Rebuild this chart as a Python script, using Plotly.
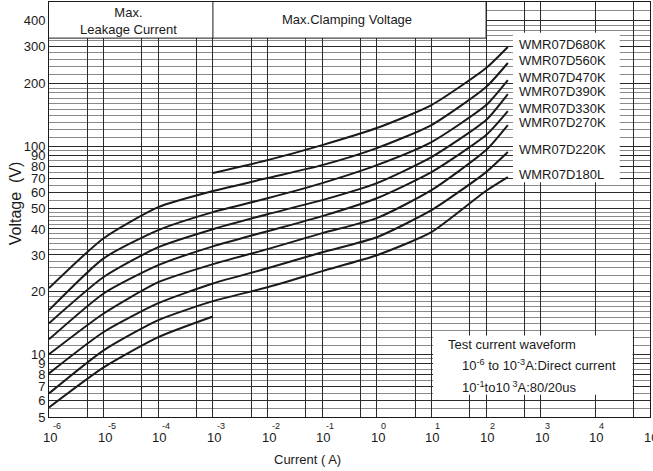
import numpy as np
import plotly.graph_objects as go

# Current points (A) for each curve
currents_full = [1e-6, 1e-5, 1e-4, 1e-3, 1e-2, 1e-1, 1, 10, 100, 250]
currents_clamp = [1e-3, 1e-2, 1e-1, 1, 10, 100, 250]
currents_leak = [1e-6, 1e-5, 1e-4, 1e-3]

# Voltage (V) readings per varistor
v_680K = [74.2, 85.6, 101.1, 122.1, 157.4, 237.1, 299.2]
v_560K = [20.8, 36.1, 50.9, 60.8, 70.2, 81.0, 97.8, 126.2, 192.2, 250.6]
v_470K = [16.3, 28.9, 39.5, 48.2, 56.2, 66.4, 81.0, 104.5, 157.4, 207.6]
v_390K = [14.1, 23.5, 32.7, 39.9, 47.1, 55.0, 66.4, 88.5, 133.4, 177.8]
v_330K = [11.8, 19.6, 26.8, 33.0, 39.0, 46.1, 56.2, 75.0, 113.0, 147.3]
v_270K = [10.0, 15.7, 22.2, 27.1, 32.0, 38.2, 45.1, 61.4, 95.7, 126.2]
v_220K = [8.1, 12.8, 17.6, 21.9, 25.9, 30.9, 36.5, 49.2, 75.0, 93.6]
v_180L = [6.49, 10.45, 14.6, 18.0, 21.0, 25.1, 29.9, 38.6, 61.0, 71.0]
v_leak_low = [5.56, 8.66, 12.1, 15.2]

model_names = ["WMR07D680K", "WMR07D560K", "WMR07D470K", "WMR07D390K",
               "WMR07D330K", "WMR07D270K", "WMR07D220K", "WMR07D180L"]

y_tick_vals = [5, 6, 7, 8, 9, 10, 20, 30, 40, 50, 60, 70, 80, 90, 100, 200, 300, 400]
y_minor_vals = ([5.5, 6.5, 7.5, 8.5, 9.5] + list(range(11, 20)) +
                [22, 24, 26, 28, 32, 34, 36, 38, 42, 44, 46, 48, 55, 65, 75, 85, 95] +
                list(range(110, 200, 10)) + [220, 240, 260, 280, 320, 340, 360, 380, 450])
x_decades = list(range(-6, 6))
x_grid_vals = [10.0 ** e for e in x_decades] + [5 * 10.0 ** e for e in range(-6, 5) if e != 3]

FONT = "Arial, Liberation Sans, sans-serif"
INK = "#1a1a1a"

fig = go.Figure()

series = [
    (currents_clamp, v_680K),
    (currents_full, v_560K),
    (currents_full, v_470K),
    (currents_full, v_390K),
    (currents_full, v_330K),
    (currents_full, v_270K),
    (currents_full, v_220K),
    (currents_full, v_180L),
]
for (xs, ys), name in zip(series, model_names):
    fig.add_trace(go.Scatter(x=xs, y=ys, mode="lines", name=name,
                             line=dict(color=INK, width=2, shape="spline", smoothing=0.6),
                             showlegend=False, hoverinfo="skip"))
fig.add_trace(go.Scatter(x=currents_leak, y=v_leak_low, mode="lines",
                         line=dict(color=INK, width=2, shape="spline", smoothing=0.6),
                         showlegend=False, hoverinfo="skip"))

# White panels over the grid
panels = [
    dict(x0=1e-6, x1=100, y0=330, y1=492),       # header panel
    dict(x0=310, x1=28000, y0=67, y1=350),        # model labels
    dict(x0=10.7, x1=48000, y0=6.4, y1=12.3),     # waveform note
]
for p in panels:
    fig.add_shape(type="rect", xref="x", yref="y", layer="above",
                  fillcolor="white", line=dict(width=0), **p)
# header panel frame
fig.add_shape(type="line", xref="x", yref="y", layer="above", x0=1e-6, x1=100, y0=330, y1=330,
              line=dict(color=INK, width=1))
for xv in (1e-3, 100):
    fig.add_shape(type="line", xref="x", yref="y", layer="above", x0=xv, x1=xv, y0=330, y1=492,
                  line=dict(color=INK, width=1))

ann = []
ann.append(dict(x=np.log10(1e-6 * 10 ** 1.45), y=np.log10(400), xref="x", yref="y",
                text="Max.<br>Leakage Current", showarrow=False,
                font=dict(size=13, color=INK, family=FONT)))
ann.append(dict(x=np.log10(10 ** -0.55), y=np.log10(405), xref="x", yref="y",
                text="Max.Clamping Voltage", showarrow=False,
                font=dict(size=13, color=INK, family=FONT)))

# model labels next to the curve ends
for (xs, ys), name in zip(series, model_names):
    ann.append(dict(x=np.log10(370), y=np.log10(ys[-1] * 1.03), xref="x", yref="y",
                    text=name, showarrow=False, xanchor="left",
                    font=dict(size=13, color=INK, family=FONT)))

# waveform note
ann.append(dict(x=np.log10(18.5), y=np.log10(11.1), xref="x", yref="y", xanchor="left",
                text="Test current waveform", showarrow=False,
                font=dict(size=13, color=INK, family=FONT)))
ann.append(dict(x=np.log10(34), y=np.log10(8.85), xref="x", yref="y", xanchor="left",
                text="10<sup>-6</sup> to 10<sup>-3</sup>A:Direct current", showarrow=False,
                font=dict(size=13, color=INK, family=FONT)))
ann.append(dict(x=np.log10(34), y=np.log10(7.0), xref="x", yref="y", xanchor="left",
                text="10<sup>-1</sup>to10<sup> 3</sup>A:80/20us", showarrow=False,
                font=dict(size=13, color=INK, family=FONT)))

# x tick labels: 10 with exponent above
for e in x_decades:
    ann.append(dict(x=e, y=0, xref="x", yref="paper", yanchor="middle", yshift=-20, xshift=1,
                    text="10", showarrow=False, font=dict(size=13, color=INK, family=FONT)))
    ann.append(dict(x=e, y=0, xref="x", yref="paper", yanchor="middle", xanchor="left",
                    yshift=-9, xshift=2, text=str(e), showarrow=False,
                    font=dict(size=9, color=INK, family=FONT)))

ann.append(dict(x=0.43, y=0, xref="paper", yref="paper", yanchor="middle", yshift=-42,
                text="Current ( A)", showarrow=False, font=dict(size=13, color=INK, family=FONT)))
ann.append(dict(x=0, y=0.515, xref="paper", yref="paper", xanchor="center", yanchor="middle",
                xshift=-34, textangle=-90,
                text="Voltage  (V)", showarrow=False, font=dict(size=16, color=INK, family=FONT)))

fig.update_layout(
    width=653, height=471,
    margin=dict(l=49, r=3, t=2, b=54),
    paper_bgcolor="white", plot_bgcolor="white",
    annotations=ann,
    xaxis=dict(type="log", range=[-6, 5], tickvals=x_grid_vals, showticklabels=False,
               showgrid=True, gridcolor="#2a2a2a", gridwidth=1, ticks="",
               showline=True, mirror=True, linecolor=INK, linewidth=1, zeroline=False),
    yaxis=dict(type="log", range=[np.log10(5), 2.692], tickvals=y_tick_vals,
               ticktext=[str(v) for v in y_tick_vals], ticks="",
               tickfont=dict(size=13, color=INK, family=FONT),
               showgrid=True, gridcolor="#2a2a2a", gridwidth=1,
               minor=dict(tickvals=y_minor_vals, showgrid=True, gridcolor="#8a8a8a", gridwidth=1),
               showline=True, mirror=True, linecolor=INK, linewidth=1, zeroline=False),
)

fig.write_html("out.html")
